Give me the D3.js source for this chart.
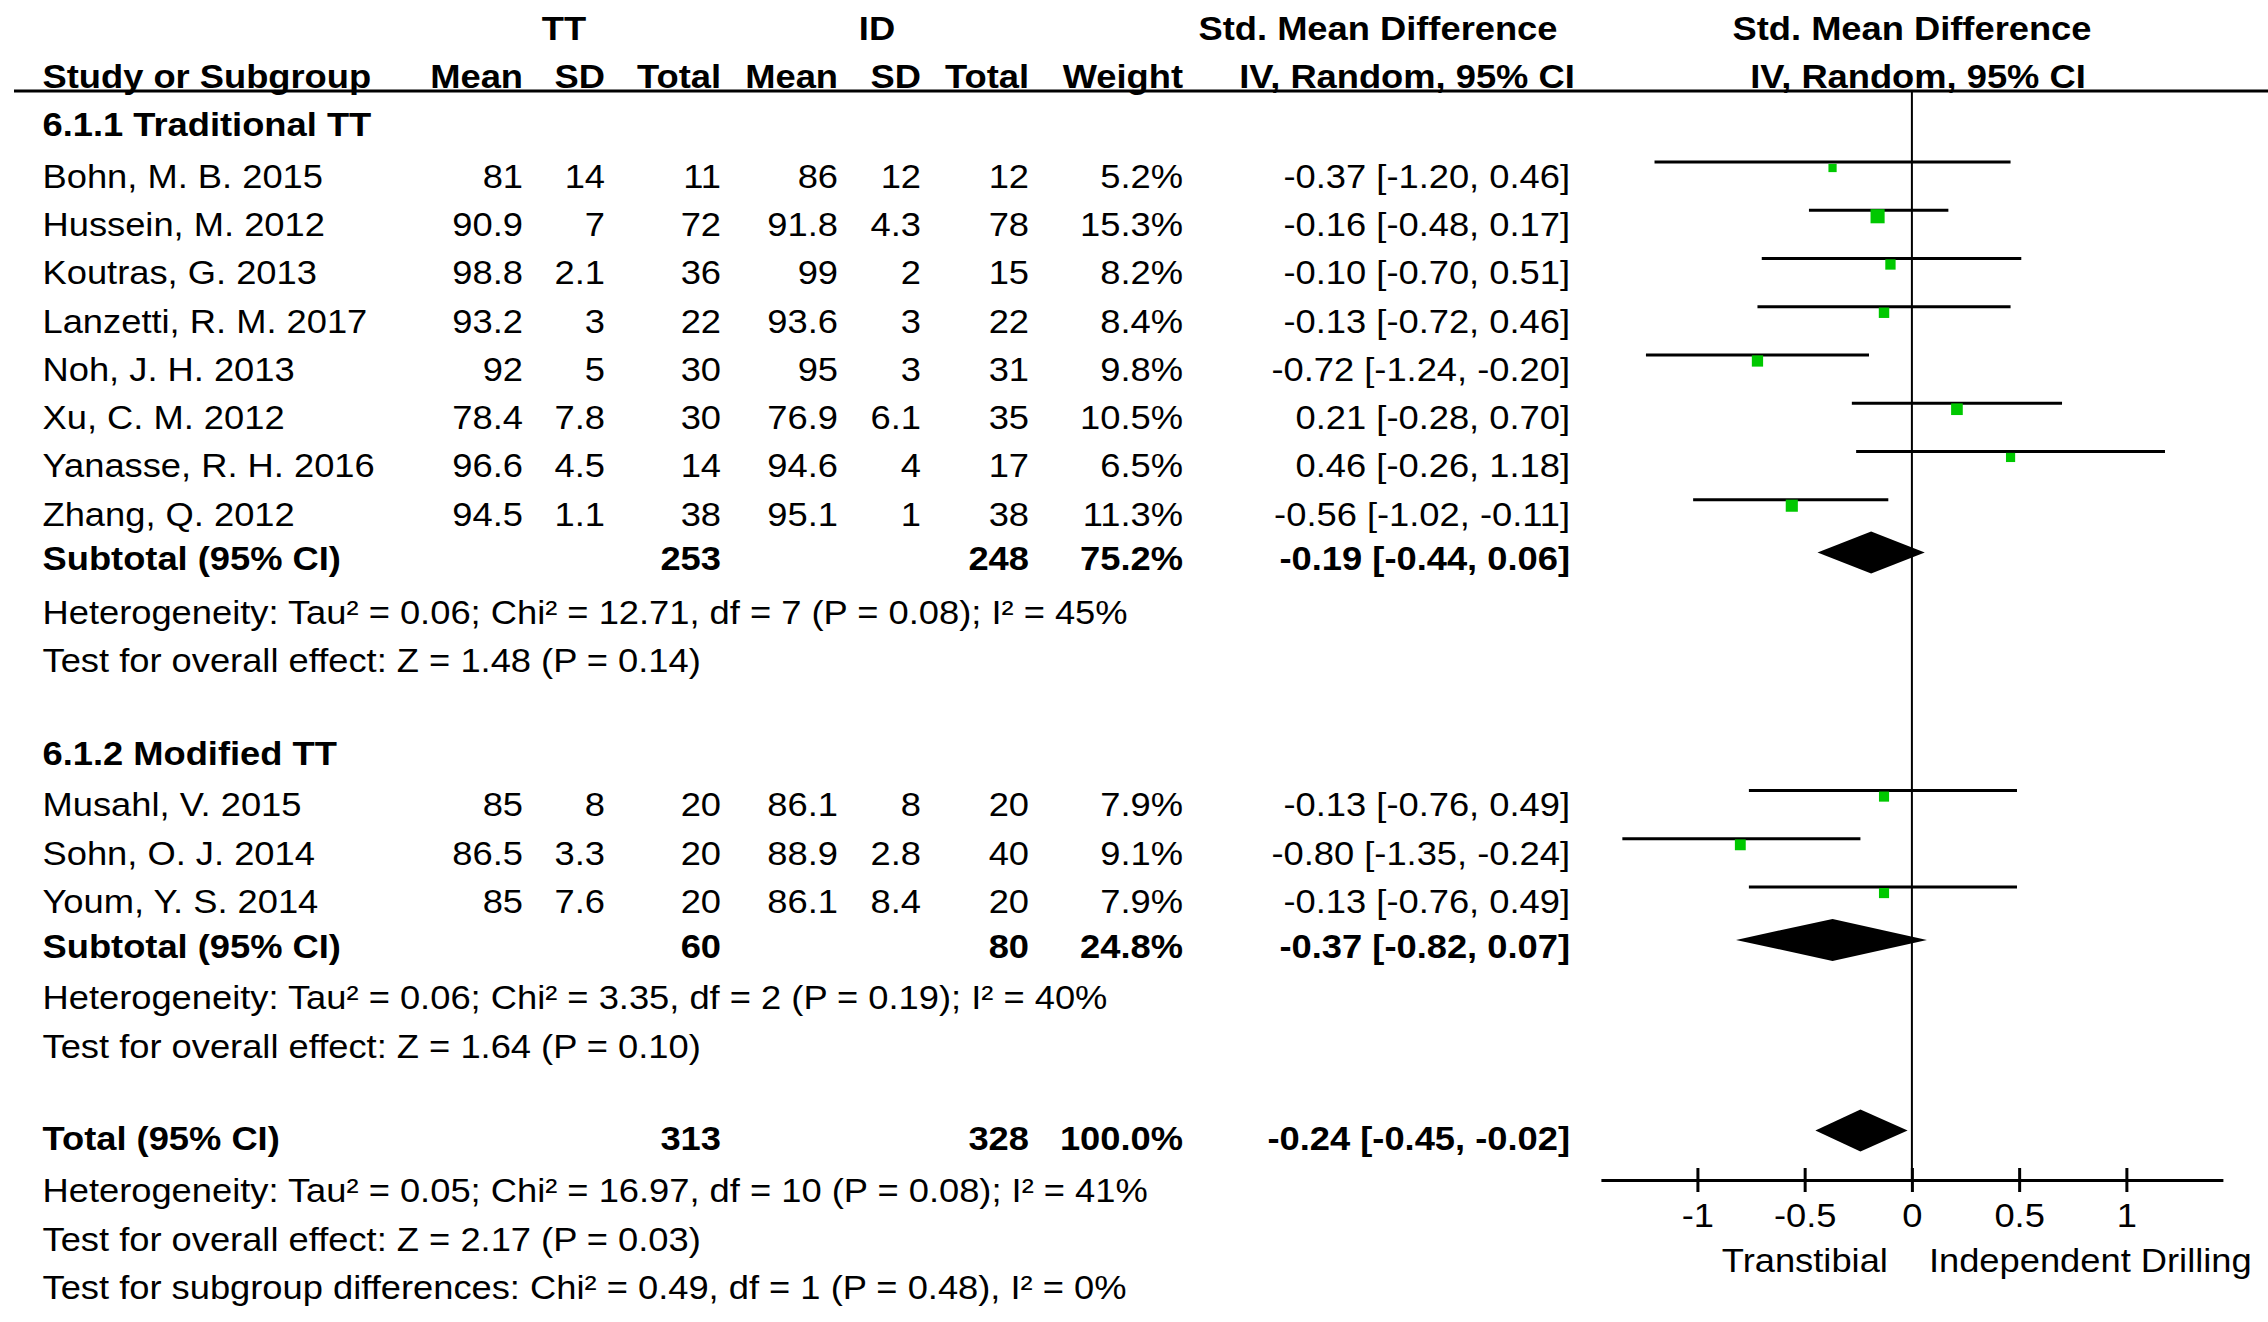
<!DOCTYPE html>
<html lang="en">
<head>
<meta charset="utf-8">
<title>Forest plot: TT vs ID</title>
<script src="https://d3js.org/d3.v7.min.js"></script>
<style>
  body { margin: 0; background: #fff; }
  svg text { font-family: "Liberation Sans", Arial, Helvetica, sans-serif; fill: #000; }
</style>
</head>
<body>
<script>
// ---- data ----
var studies = ["Bohn, M. B. 2015", "Hussein, M. 2012", "Koutras, G. 2013", "Lanzetti, R. M. 2017",
               "Noh, J. H. 2013", "Xu, C. M. 2012", "Yanasse, R. H. 2016", "Zhang, Q. 2012",
               "Musahl, V. 2015", "Sohn, O. J. 2014", "Youm, Y. S. 2014"];
var studyGroup = [1, 1, 1, 1, 1, 1, 1, 1, 2, 2, 2];
var ttMean  = ["81", "90.9", "98.8", "93.2", "92", "78.4", "96.6", "94.5", "85", "86.5", "85"];
var ttSD    = ["14", "7", "2.1", "3", "5", "7.8", "4.5", "1.1", "8", "3.3", "7.6"];
var ttTotal = ["11", "72", "36", "22", "30", "30", "14", "38", "20", "20", "20"];
var idMean  = ["86", "91.8", "99", "93.6", "95", "76.9", "94.6", "95.1", "86.1", "88.9", "86.1"];
var idSD    = ["12", "4.3", "2", "3", "3", "6.1", "4", "1", "8", "2.8", "8.4"];
var idTotal = ["12", "78", "15", "22", "31", "35", "17", "38", "20", "40", "20"];
var weight  = [5.2, 15.3, 8.2, 8.4, 9.8, 10.5, 6.5, 11.3, 7.9, 9.1, 7.9];
var smd     = [-0.37, -0.16, -0.10, -0.13, -0.72, 0.21, 0.46, -0.56, -0.13, -0.80, -0.13];
var ciLow   = [-1.20, -0.48, -0.70, -0.72, -1.24, -0.28, -0.26, -1.02, -0.76, -1.35, -0.76];
var ciHigh  = [0.46, 0.17, 0.51, 0.46, -0.20, 0.70, 1.18, -0.11, 0.49, -0.24, 0.49];

var groupTitles = ["6.1.1 Traditional TT", "6.1.2 Modified TT"];
var subTT     = ["253", "60"];
var subID     = ["248", "80"];
var subWeight = ["75.2%", "24.8%"];
var subSmd    = [-0.19, -0.37];
var subLow    = [-0.44, -0.82];
var subHigh   = [0.06, 0.07];
var subHet    = ["Heterogeneity: Tau² = 0.06; Chi² = 12.71, df = 7 (P = 0.08); I² = 45%",
                 "Heterogeneity: Tau² = 0.06; Chi² = 3.35, df = 2 (P = 0.19); I² = 40%"];
var subTest   = ["Test for overall effect: Z = 1.48 (P = 0.14)",
                 "Test for overall effect: Z = 1.64 (P = 0.10)"];

var totalTT = "313", totalID = "328", totalWeight = "100.0%";
var totalSmd = -0.24, totalLow = -0.45, totalHigh = -0.02;
var totalNotes = ["Heterogeneity: Tau² = 0.05; Chi² = 16.97, df = 10 (P = 0.08); I² = 41%",
                  "Test for overall effect: Z = 2.17 (P = 0.03)",
                  "Test for subgroup differences: Chi² = 0.49, df = 1 (P = 0.48), I² = 0%"];

var xTicks = [-1, -0.5, 0, 0.5, 1];
var favours = ["Transtibial", "Independent Drilling"];

// ---- layout ----
var W = 2268, H = 1322;
var FS = 34;
var SX = 1.068;   // the original type is a bit wider than Arial
var green = "#00c800";

var svg = d3.select("body").append("svg")
    .attr("width", W).attr("height", H);

function fmt(v) { return v.toFixed(2); }
function ciText(m, l, h) { return fmt(m) + " [" + fmt(l) + ", " + fmt(h) + "]"; }

// text helper: keeps the anchor point fixed and widens the glyphs
function label(parent, t, xx, yy, anchor) {
  return parent.append("text")
    .attr("transform", "translate(" + xx + "," + yy + ") scale(" + SX + ",1)")
    .attr("dy", "0.35em")
    .attr("text-anchor", anchor || "end")
    .text(t);
}

// column anchors (right aligned numbers)
var col = { name: 42.5, ttMean: 523, ttSD: 605, ttTotal: 721, idMean: 838, idSD: 921,
            idTotal: 1029, weight: 1183, ci: 1570 };

// vertical slot -> y
var y = d3.scaleLinear().domain([0, 1]).range([124.4, 172.64]);

var x = d3.scaleLinear().domain([-1.45, 1.45]).range([1600.9, 2222.9]);
var axisY = 1180;

// header
var hdr = svg.append("g").attr("font-weight", "bold").attr("font-size", FS);
label(hdr, "TT", 564, 28, "middle");
label(hdr, "ID", 877, 28, "middle");
label(hdr, "Std. Mean Difference", 1378, 28, "middle");
label(hdr, "Std. Mean Difference", 1912, 28, "middle");
label(hdr, "Study or Subgroup", col.name, 76, "start");
label(hdr, "Mean", col.ttMean, 76);
label(hdr, "SD", col.ttSD, 76);
label(hdr, "Total", col.ttTotal, 76);
label(hdr, "Mean", col.idMean, 76);
label(hdr, "SD", col.idSD, 76);
label(hdr, "Total", col.idTotal, 76);
label(hdr, "Weight", col.weight, 76);
label(hdr, "IV, Random, 95% CI", 1407, 76, "middle");
label(hdr, "IV, Random, 95% CI", 1918, 76, "middle");

svg.append("line").attr("x1", 14).attr("x2", W).attr("y1", 91).attr("y2", 91)
  .attr("stroke", "#000").attr("stroke-width", 3);

// zero line
svg.append("line").attr("x1", x(0)).attr("x2", x(0)).attr("y1", 91).attr("y2", axisY)
  .attr("stroke", "#000").attr("stroke-width", 2);

var body = svg.append("g").attr("font-size", FS);
function row(yy, cells, bold) {
  var g = body.append("g").attr("font-weight", bold ? "bold" : "normal");
  cells.forEach(function (c) {
    if (c[0] === "" || c[0] == null) return;
    label(g, c[0], c[1], yy, c[2] || "end");
  });
}

function diamond(yy, m, l, h) {
  var hh = 21;
  svg.append("path")
    .attr("d", "M" + x(l) + "," + yy + "L" + x(m) + "," + (yy - hh) + "L" + x(h) + "," + yy +
               "L" + x(m) + "," + (yy + hh) + "Z")
    .attr("fill", "#000");
}

var groupSlots = [
  { title: 0, first: 1.07, sub: 9.0, het: 10.1, test: 11.1 },
  { title: 13.03, first: 14.1, sub: 17.03, het: 18.1, test: 19.1 }
];

groupSlots.forEach(function (gs, gi) {
  row(y(gs.title), [[groupTitles[gi], col.name, "start"]], true);
  var idx = d3.range(studies.length).filter(function (i) { return studyGroup[i] === gi + 1; });
  idx.forEach(function (i, k) {
    var yy = y(gs.first + k);
    row(yy, [[studies[i], col.name, "start"], [ttMean[i], col.ttMean], [ttSD[i], col.ttSD],
             [ttTotal[i], col.ttTotal], [idMean[i], col.idMean], [idSD[i], col.idSD],
             [idTotal[i], col.idTotal], [weight[i].toFixed(1) + "%", col.weight],
             [ciText(smd[i], ciLow[i], ciHigh[i]), col.ci]], false);
    var ly = yy - 14;
    svg.append("line").attr("x1", x(ciLow[i])).attr("x2", x(ciHigh[i]))
      .attr("y1", ly).attr("y2", ly).attr("stroke", "#000").attr("stroke-width", 3);
    var s = 3.6 * Math.sqrt(weight[i]);
    svg.append("rect").attr("x", x(smd[i]) - s / 2).attr("y", ly + 6 - s / 2)
      .attr("width", s).attr("height", s).attr("fill", green);
  });
  var sy = y(gs.sub);
  row(sy, [["Subtotal (95% CI)", col.name, "start"], [subTT[gi], col.ttTotal],
           [subID[gi], col.idTotal], [subWeight[gi], col.weight],
           [ciText(subSmd[gi], subLow[gi], subHigh[gi]), col.ci]], true);
  diamond(sy - 6, subSmd[gi], subLow[gi], subHigh[gi]);
  row(y(gs.het), [[subHet[gi], col.name, "start"]], false);
  row(y(gs.test), [[subTest[gi], col.name, "start"]], false);
});

var ty = y(21.02);
row(ty, [["Total (95% CI)", col.name, "start"], [totalTT, col.ttTotal], [totalID, col.idTotal],
         [totalWeight, col.weight], [ciText(totalSmd, totalLow, totalHigh), col.ci]], true);
diamond(ty - 8, totalSmd, totalLow, totalHigh);
totalNotes.forEach(function (t, i) {
  row(y(22.1 + i), [[t, col.name, "start"]], false);
});

// axis
var axis = d3.axisBottom(x).tickValues(xTicks).tickSize(12).tickSizeOuter(0)
  .tickFormat(function (d) { return String(d); });
var ag = svg.append("g").attr("transform", "translate(0," + axisY + ")").call(axis);
ag.select(".domain").attr("stroke", "#000").attr("stroke-width", 3);
ag.selectAll(".tick line").attr("y1", -12).attr("y2", 12).attr("stroke", "#000").attr("stroke-width", 3);
ag.selectAll(".tick text").attr("font-size", FS).attr("y", 35).attr("dy", "0.35em")
  .attr("transform", "scale(" + SX + ",1)")
  .attr("font-family", "'Liberation Sans', Arial, sans-serif").attr("fill", "#000");

var fav = svg.append("g").attr("font-size", FS);
label(fav, favours[0], x(0) - 24, 1260, "end");
label(fav, favours[1], x(0) + 17, 1260, "start");
</script>
</body>
</html>
